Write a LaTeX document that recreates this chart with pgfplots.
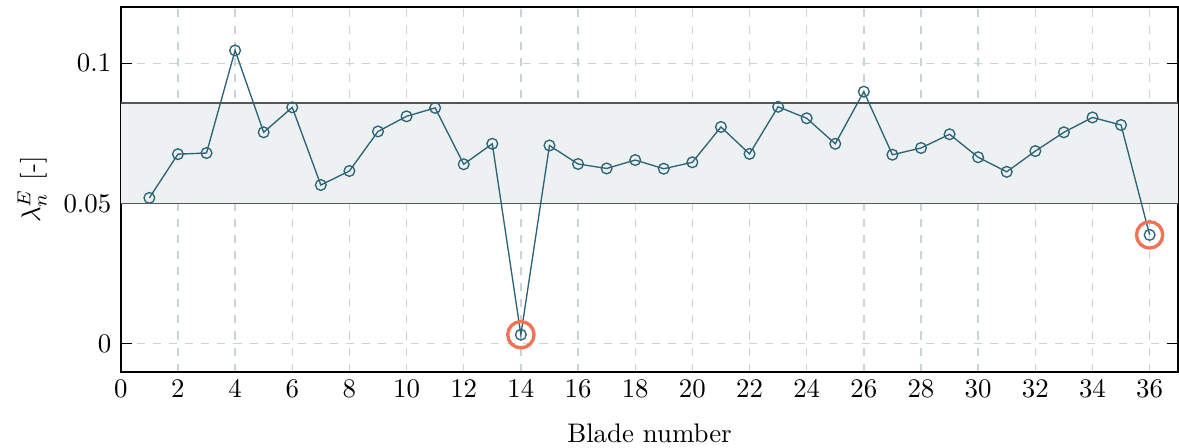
\documentclass[border=0pt]{standalone}
\usepackage{pgfplots}
\pgfplotsset{compat=1.18}
\usepackage{pgfplotstable}

\definecolor{bladeline}{RGB}{45,100,120}
\definecolor{outlier}{RGB}{240,115,85}
\definecolor{bandfill}{RGB}{237,241,242}
\definecolor{gridcol}{RGB}{200,212,216}
\definecolor{bandedge}{RGB}{85,85,85}

\pgfplotstableread{
n   lambda
1   0.0520
2   0.0676
3   0.0680
4   0.1046
5   0.0754
6   0.0843
7   0.0566
8   0.0616
9   0.0757
10  0.0811
11  0.0841
12  0.0640
13  0.0713
14  0.0032
15  0.0707
16  0.0641
17  0.0625
18  0.0655
19  0.0624
20  0.0647
21  0.0773
22  0.0677
23  0.0845
24  0.0804
25  0.0713
26  0.0899
27  0.0674
28  0.0698
29  0.0747
30  0.0665
31  0.0613
32  0.0687
33  0.0754
34  0.0807
35  0.0780
36  0.0388
}\bladedata

\begin{document}
\begin{tikzpicture}
\begin{axis}[
  name=ax,
  scale only axis,
  width=394pt, height=135.8pt,
  xmin=0, xmax=37,
  ymin=-0.01, ymax=0.12,
  xtick={0,2,...,36},
  ytick={0,0.05,0.1},
  yticklabel style={/pgf/number format/fixed},
  xticklabel style={yshift=0.3pt},
  scaled y ticks=false,
  grid=major,
  major grid style={gridcol, dashed, line width=0.5pt},
  xtick style={draw=none},
  ytick style={black, line width=0.5pt},
  major tick length=4pt,
  axis line style={line width=0.6pt},
  xlabel={Blade number},
  xlabel style={at={(axis description cs:0.5,0)}, anchor=base, yshift=-26.4pt},
  ylabel={$\lambda_n^E$ [-]},
  ylabel style={at={(axis description cs:-0.0838,0.5)}, anchor=center, rotate=0},
  clip=true,
]
  % tolerance band
  \addplot[fill=bandfill, draw=none, forget plot] coordinates
    {(0,0.05) (37,0.05) (37,0.0859) (0,0.0859)} -- cycle;
  \addplot[bandedge, line width=0.6pt, forget plot] coordinates {(0,0.05) (37,0.05)};
  \addplot[bandedge, line width=0.6pt, forget plot] coordinates {(0,0.0859) (37,0.0859)};

  % blade values
  \addplot[bladeline, line width=0.5pt, mark=o, mark size=2pt,
           mark options={line width=0.5pt}] table[x=n, y=lambda] {\bladedata};

  % flagged blades
  \addplot[only marks, outlier, mark=o, mark size=4.9pt,
           mark options={line width=1.25pt}] coordinates {(14,0.0032) (36,0.0388)};
\end{axis}
\pgfresetboundingbox
\path ([xshift=-45pt, yshift=-28.2pt]ax.south west)
  rectangle ([xshift=0.3pt, yshift=2.7pt]ax.north east);
\end{tikzpicture}
\end{document}
